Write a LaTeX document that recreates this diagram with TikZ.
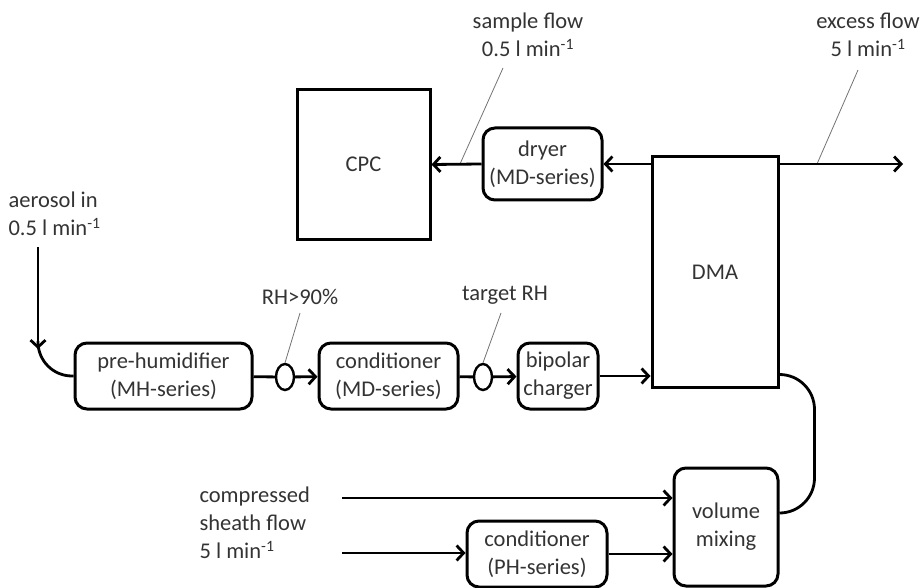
\documentclass[tikz,border=0pt]{standalone}
\usepackage{fontspec}
\setmainfont{Carlito}
\usetikzlibrary{arrows.meta,calc,positioning,shapes.geometric}

\begin{document}
\begin{tikzpicture}[
  x=1pt, y=-1pt,
  every node/.style={font=\fontsize{22.5}{28}\selectfont, text=black!80},
  box/.style={draw, line width=3pt, align=center, inner sep=2pt},
  rbox/.style={box, rounded corners=12pt},
  valve/.style={draw, ellipse, line width=2.4pt, minimum width=18pt, minimum height=26pt, inner sep=0pt},
  flow/.style={line width=2.8pt},
  arrow/.style={flow, -{Straight Barb[length=7pt,width=15pt]}},
  leader/.style={draw=black!55, line width=0.8pt},
  flowlbl/.style={align=center}
]
  \useasboundingbox (0,0) rectangle (923,588);

  % Top row
  \node[box, minimum width=133, minimum height=149] (cpc) at (363.5,164.5) {CPC};
  \node[rbox, minimum width=119, minimum height=72] (dryer) at (542.5,164) {dryer\\(MD-series)};
  \node[box, minimum width=126, minimum height=230] (dma) at (715,272) {DMA};

  % Aerosol line
  \node[rbox, minimum width=177, minimum height=66] (prehum) at (163.5,376) {pre-humidifier\\(MH-series)};
  \node[valve] (rh1) at (285,377) {};
  \node[rbox, minimum width=139, minimum height=66] (condmd) at (388.5,376) {conditioner\\(MD-series)};
  \node[valve] (rh2) at (483,377) {};
  \node[rbox, minimum width=80, minimum height=66] (charger) at (558,376) {bipolar\\charger};

  % Sheath line
  \node[rbox, minimum width=140, minimum height=66] (condph) at (537,554) {conditioner\\(PH-series)};
  \node[rbox, minimum width=104, minimum height=118] (vmix) at (726,527) {volume\\mixing};

  % Labels
  \node[flowlbl] (sflow) at (528,35) {sample flow\\0.5 l min\textsuperscript{-1}};
  \node[flowlbl] (eflow) at (868,35) {excess flow\\5 l min\textsuperscript{-1}};
  \node[flowlbl, align=left, anchor=west] (aero) at (5,214) {aerosol in\\0.5 l min\textsuperscript{-1}};
  \node (rh1lbl) at (300,297) {RH>90\%};
  \node (rh2lbl) at (505,295) {target RH};
  \node[flowlbl, align=left, anchor=west] (sheath) at (196,523) {compressed\\sheath flow\\5 l min\textsuperscript{-1}};

  % Free ends
  \coordinate (aerotop) at (38,247);
  \coordinate (aerobend) at (38,349);
  \coordinate (sheathin) at (342,498);
  \coordinate (phin) at (342,553);
  \coordinate (excess) at (903,164);
  \coordinate (sfoot) at (460,164);
  \coordinate (shead) at (503,68);
  \coordinate (efoot) at (817,164);
  \coordinate (ehead) at (858,70);
  \coordinate (rh1head) at (300,313);
  \coordinate (rh2head) at (501,313);

  % Leaders
  \draw[leader] (sfoot) -- (shead);
  \draw[leader] (efoot) -- (ehead);
  \draw[leader] (rh1.north) -- (rh1head);
  \draw[leader] (rh2.north) -- (rh2head);

  % Flows
  \draw[arrow] (dryer.west) -- (cpc.east);
  \draw[arrow] (dryer.east -| dma.west) -- (dryer.east);
  \draw[arrow] (dryer.east -| dma.east) -- (excess);
  \draw[arrow] (aerotop) -- (aerobend);
  \draw[flow, rounded corners=34pt] ($(aerobend)+(0,-8)$) |- (prehum.west);
  \draw[flow] (prehum) -- (rh1);
  \draw[arrow] (rh1) -- (condmd);
  \draw[flow] (condmd) -- (rh2);
  \draw[arrow] (rh2) -- (charger);
  \draw[arrow] (charger) -- (charger -| dma.west);
  \draw[flow, rounded corners=35pt] ($(dma.south east)+(0,-14)$) -- ++(35,0) |- ($(vmix.east)+(0,-14)$);
  \draw[arrow] (sheathin) -- (sheathin -| vmix.west);
  \draw[arrow] (phin) -- (phin -| condph.west);
  \draw[arrow] (condph) -- (condph -| vmix.west);
\end{tikzpicture}
\end{document}
